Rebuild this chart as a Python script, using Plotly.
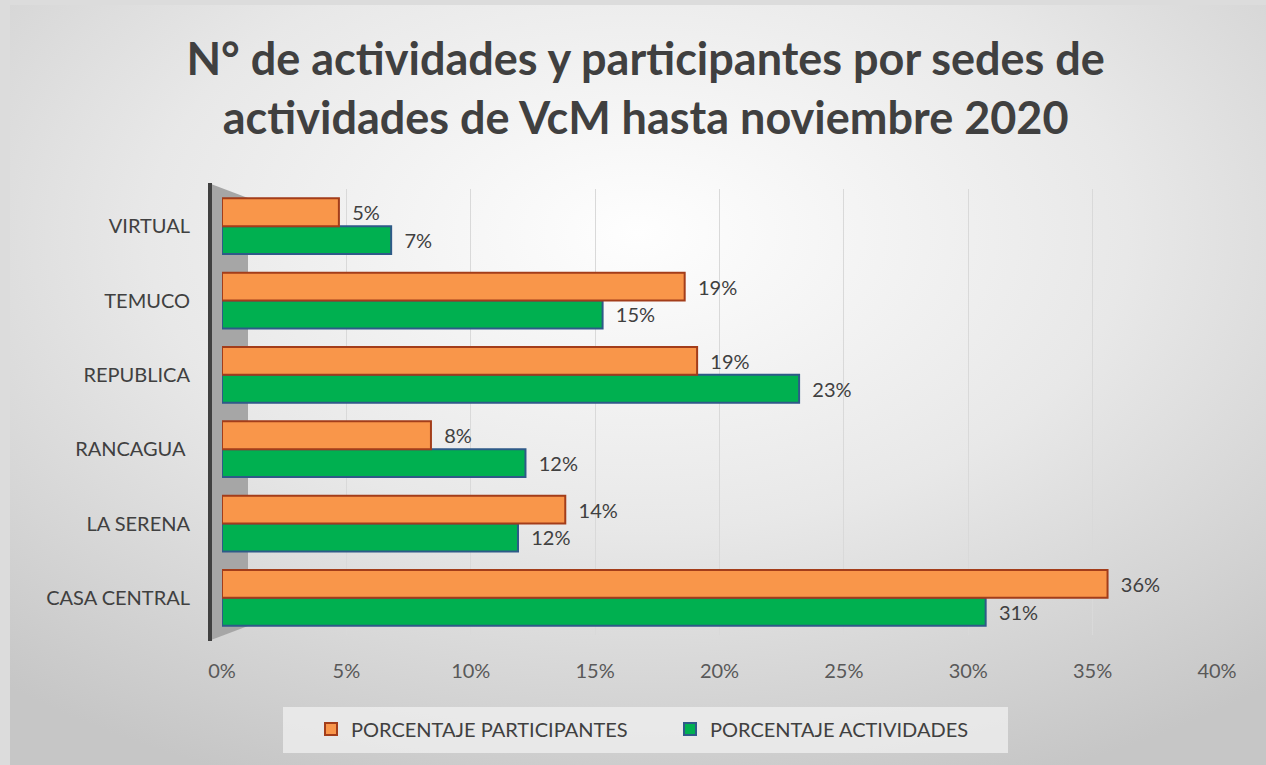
import plotly.graph_objects as go
import urllib.parse

categories = ["CASA CENTRAL", "LA SERENA", "RANCAGUA ", "REPUBLICA", "TEMUCO", "VIRTUAL"]
participantes = [0.356, 0.138, 0.084, 0.191, 0.186, 0.047]
actividades = [0.307, 0.119, 0.122, 0.232, 0.153, 0.068]
x_ticks = [0, 0.05, 0.10, 0.15, 0.20, 0.25, 0.30, 0.35, 0.40]
x_tick_labels = ["0%", "5%", "10%", "15%", "20%", "25%", "30%", "35%", "40%"]

W, H = 1266, 765
ML, MR, MT, MB = 222, 49, 189, 130
PW, PH = W - ML - MR, H - MT - MB

def pct(v):
    return f"  {round(v * 100):.0f}%"

svg = (
    "<svg xmlns='http://www.w3.org/2000/svg' width='1256' height='760' viewBox='0 0 1256 760' preserveAspectRatio='none'>"
    "<defs><radialGradient id='g' cx='50%' cy='30%' r='78%'>"
    "<stop offset='0%' stop-color='#fefefe'/>"
    "<stop offset='50%' stop-color='#e8e8e8'/>"
    "<stop offset='100%' stop-color='#c6c6c6'/>"
    "</radialGradient></defs>"
    "<rect width='1256' height='760' fill='url(#g)'/></svg>"
)
bg_uri = "data:image/svg+xml;charset=utf-8," + urllib.parse.quote(svg)

fig = go.Figure()

fig.add_trace(go.Bar(
    y=categories, x=actividades, orientation="h",
    name="PORCENTAJE ACTIVIDADES",
    marker=dict(color="#00b050", line=dict(color="#2e5a88", width=2)),
    text=[pct(v) for v in actividades], textposition="outside",
    textfont=dict(size=20, color="#404040", family="Lato"),
    cliponaxis=False, legendrank=2,
))
fig.add_trace(go.Bar(
    y=categories, x=participantes, orientation="h",
    name="PORCENTAJE PARTICIPANTES",
    marker=dict(color="#f9964a", line=dict(color="#a33d1a", width=2)),
    text=[pct(v) for v in participantes], textposition="outside",
    textfont=dict(size=20, color="#404040", family="Lato"),
    cliponaxis=False, legendrank=1,
))

def px_x(p):
    return (p - ML) / PW

def px_y(p):
    return 1 - (p - MT) / PH

shapes = [
    dict(type="path", xref="paper", yref="paper", layer="below",
         path=f"M {px_x(211)} {px_y(184)} L {px_x(248)} {px_y(198)} L {px_x(248)} {px_y(626)} L {px_x(211)} {px_y(640)} Z",
         fillcolor="#a6a6a6", line=dict(width=0)),
    dict(type="line", xref="paper", yref="paper",
         x0=px_x(210), x1=px_x(210), y0=px_y(183), y1=px_y(641),
         line=dict(color="#404040", width=4)),
    dict(type="rect", xref="paper", yref="paper", layer="below",
         x0=px_x(283), x1=px_x(1008), y0=px_y(707), y1=px_y(753),
         fillcolor="rgba(240,240,240,0.75)", line=dict(width=0)),
]

fig.update_layout(
    width=W, height=H,
    margin=dict(l=ML, r=MR, t=MT, b=MB),
    paper_bgcolor="#dcdcdc",
    plot_bgcolor="rgba(0,0,0,0)",
    barmode="group",
    bargap=0.25,
    bargroupgap=0.0,
    title=dict(
        text="<b>N° de actividades y participantes por sedes de<br>actividades de VcM hasta noviembre 2020</b>",
        x=0.51, xanchor="center", xref="container",
        y=1 - 75 / H, yanchor="top", yref="container",
        font=dict(family="Lato", size=45, color="#404040"),
    ),
    xaxis=dict(
        range=[0, 0.40], tickvals=x_ticks, ticktext=x_tick_labels,
        showgrid=True, gridcolor="#d9d9d9", gridwidth=1,
        zeroline=False, showline=False,
        ticks="outside", ticklen=18, tickcolor="rgba(0,0,0,0)",
        tickfont=dict(family="Lato", size=20, color="#595959"),
    ),
    yaxis=dict(
        showgrid=False, zeroline=False, showline=False,
        ticks="outside", ticklen=27, tickcolor="rgba(0,0,0,0)",
        tickfont=dict(family="Lato", size=20, color="#404040"),
    ),
    showlegend=True,
    legend=dict(
        orientation="h", x=px_x(670), xanchor="center",
        y=px_y(729), yanchor="middle", bgcolor="rgba(0,0,0,0)",
        font=dict(family="Lato", size=20, color="#404040"),
        itemwidth=30, entrywidth=314, entrywidthmode="pixels",
    ),
    shapes=shapes,
    images=[dict(
        source=bg_uri, xref="paper", yref="paper",
        x=px_x(10), y=px_y(5), sizex=(W - 10) / PW, sizey=(H - 5) / PH,
        xanchor="left", yanchor="top", sizing="stretch", layer="below",
    )],
)

fig.write_html(
    "out.html",
    config={"displayModeBar": False},
    post_script="document.body.style.margin='0px';document.body.style.overflow='hidden';",
)
